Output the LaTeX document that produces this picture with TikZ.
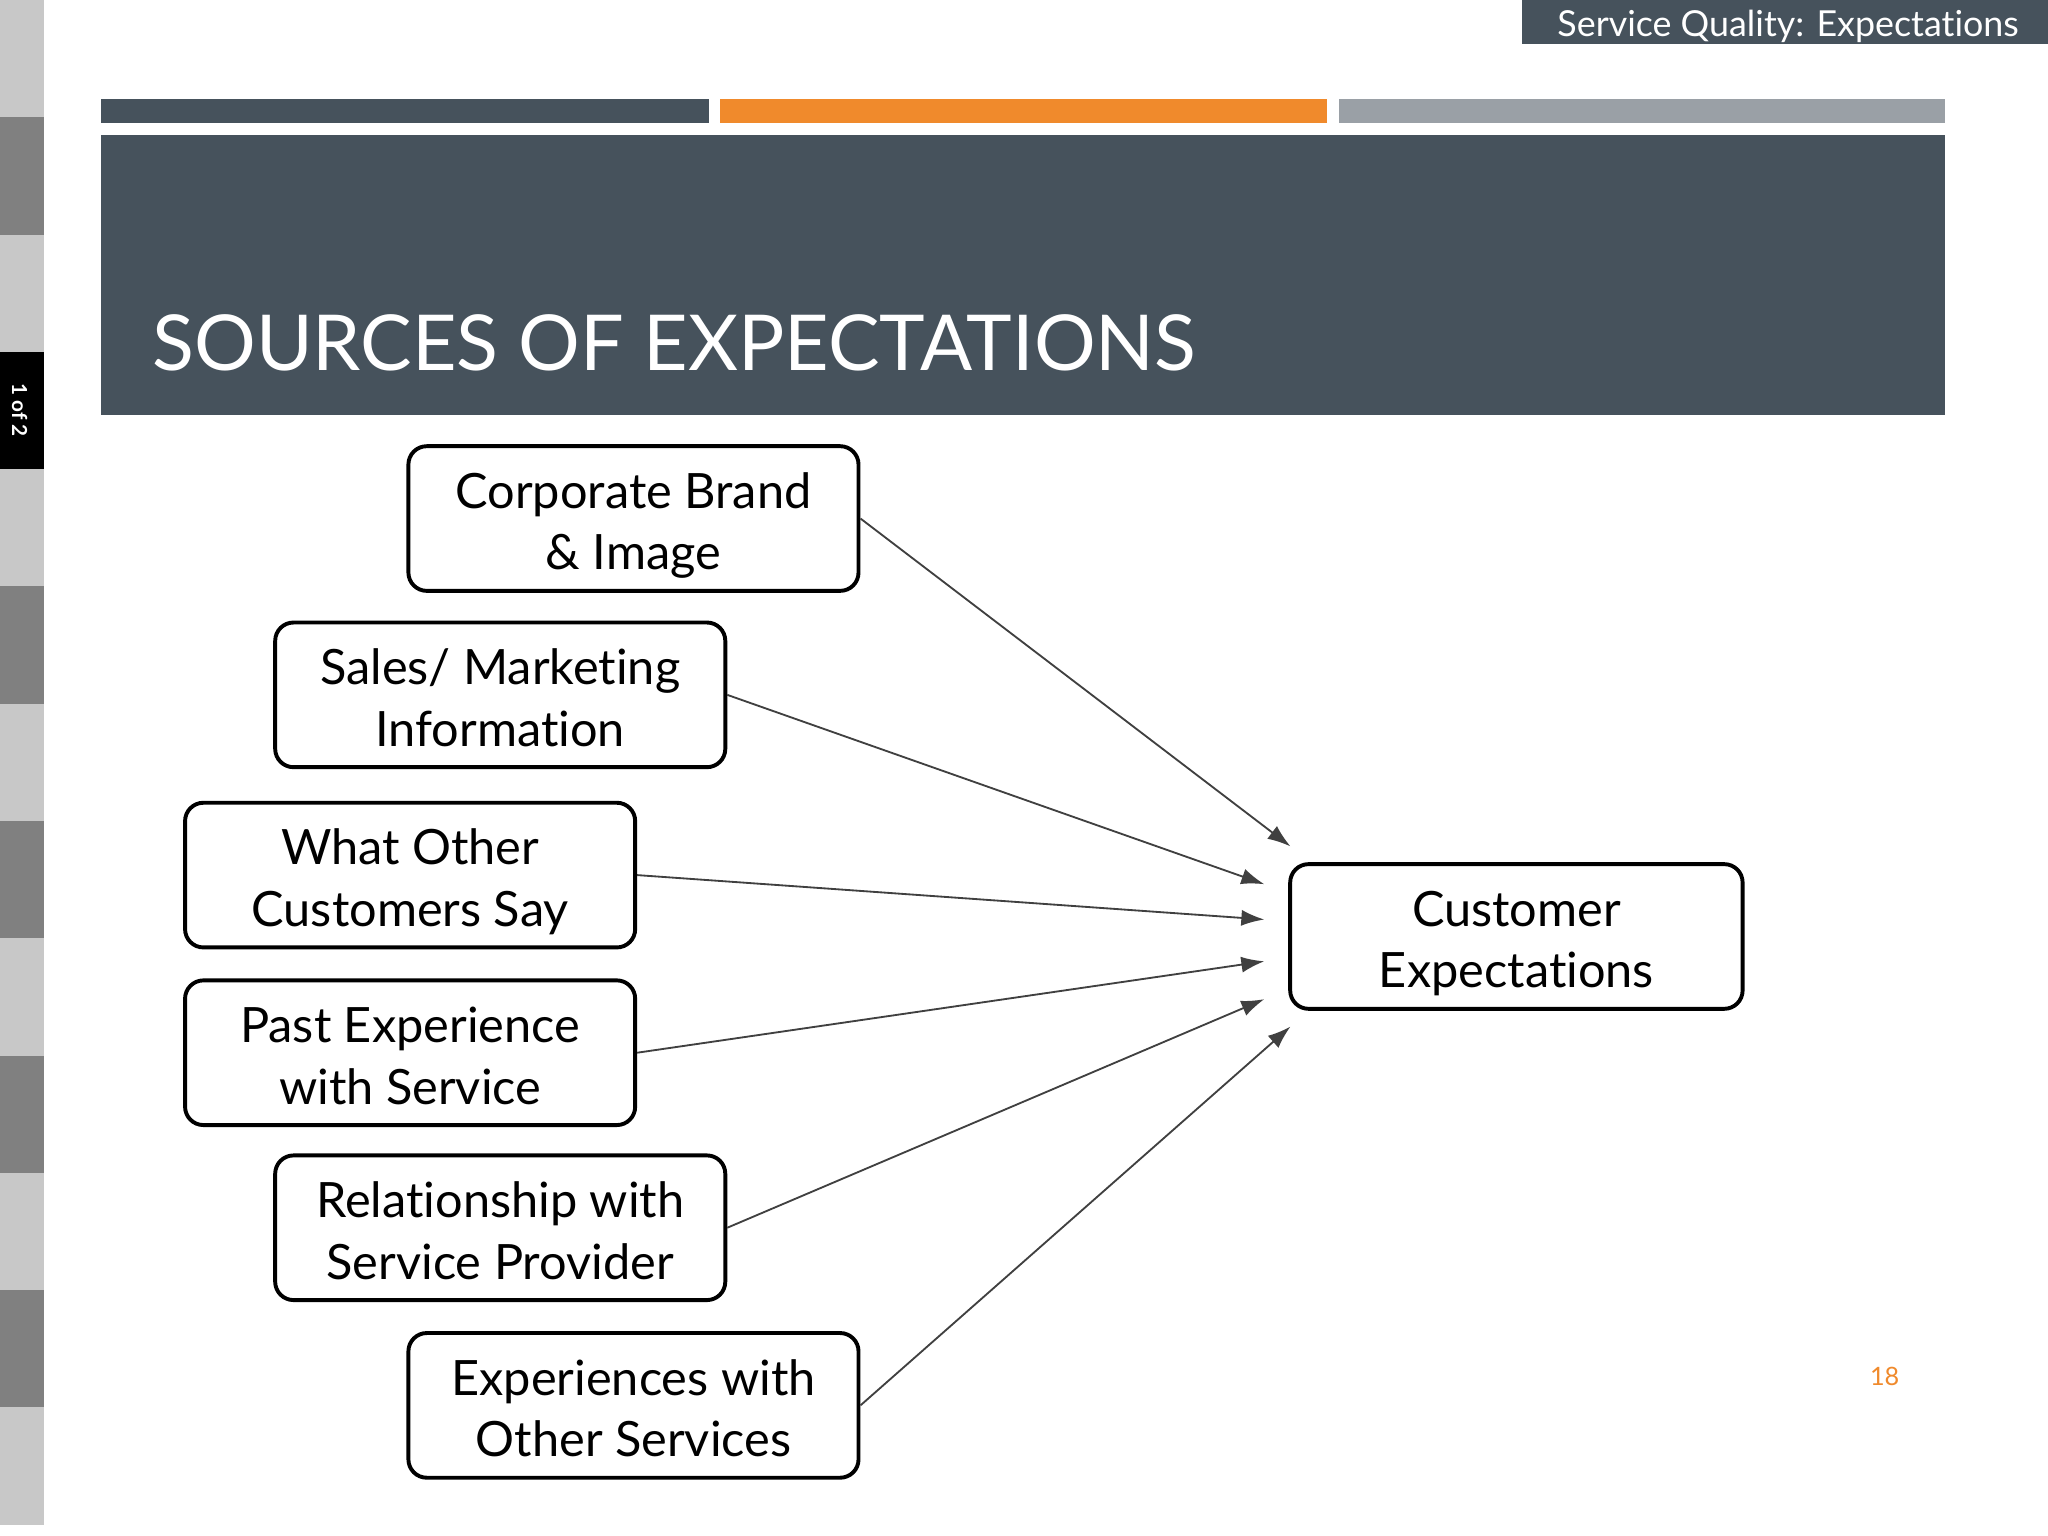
\documentclass[tikz,border=0pt]{standalone}
\usepackage{fontspec}
\setmainfont{Lato}[Ligatures=NoCommon]
\usetikzlibrary{arrows.meta}
\definecolor{slate}{HTML}{46525C}
\definecolor{orng}{HTML}{F08A2C}
\definecolor{gbar}{HTML}{9AA0A6}
\definecolor{lg}{HTML}{C8C8C8}
\definecolor{dg}{HTML}{808080}
\newcommand{\twol}[2]{\begin{tabular}{@{}c@{}}\rule{0pt}{13pt}#1\\#2\end{tabular}}
\begin{document}
\begin{tikzpicture}[x=0.01cm,y=-0.01cm,
  box/.style={draw,line width=0.85pt,rounded corners=4pt,minimum width=98pt,minimum height=31.5pt,align=center,font=\fontsize{10.6pt}{13.4pt}\selectfont,inner sep=0pt},
  arr/.style={draw=black!75,line width=0.4pt,-{Latex[length=5pt,width=3.5pt]}}]
\useasboundingbox (0,0) rectangle (1568,1176);
\fill[white] (0,0) rectangle (1568,1176);
% left stripe
\foreach \i/\c in {0/lg,1/dg,2/lg,4/lg,5/dg,6/lg,7/dg,8/lg,9/dg,10/lg,11/dg,12/lg}{
  \fill[\c] (0,{\i*89.8}) rectangle (34,{(\i+1)*89.8});}
\fill[black] (0,269.4) rectangle (34,359.2);
\node[rotate=-90,text=white,font=\fontsize{4.5pt}{5pt}\selectfont\bfseries] (pg) at (15,314) {1 of 2};
% tab
\fill[slate] (1165,0) rectangle (1568,34);
\node[text=white,font=\fontsize{7.8pt}{9pt}\selectfont,anchor=west] (tab) at (1180,20) {Service Quality: Expectations};
% bars
\fill[slate] (77,76) rectangle (543,94);
\fill[orng] (551,76) rectangle (1016,94);
\fill[gbar] (1025,76) rectangle (1489,94);
\fill[slate] (77,103) rectangle (1489,318);
\node[text=white,anchor=base west,font=\fontsize{16.8pt}{20pt}\selectfont,inner sep=0pt] (title) at (116,284) {SOURCES OF EXPECTATIONS};
% boxes
\node[box] (a) at (485,397) {\twol{Corporate Brand}{\& Image}};
\node[box] (b) at (383,532) {\twol{Sales/ Marketing}{Information}};
\node[box] (c) at (314,670) {\twol{What Other}{Customers Say}};
\node[box] (d) at (314,806) {\twol{Past Experience}{with Service}};
\node[box] (e) at (383,940) {\twol{Relationship with}{Service Provider}};
\node[box] (f) at (485,1076) {\twol{Experiences with}{Other Services}};
\node[box,minimum width=98.5pt] (t) at (1161,717) {\twol{Customer}{Expectations}};
\coordinate (ta) at (988,648);
\coordinate (tb) at (968,677);
\coordinate (tc) at (968,704);
\coordinate (td) at (968,736);
\coordinate (te) at (968,765);
\coordinate (tf) at (988,786);
\draw[arr] (a.east) -- (ta);
\draw[arr] (b.east) -- (tb);
\draw[arr] (c.east) -- (tc);
\draw[arr] (d.east) -- (td);
\draw[arr] (e.east) -- (te);
\draw[arr] (f.east) -- (tf);
\node[text=orng,font=\fontsize{5.5pt}{6pt}\selectfont] (num) at (1443,1054) {18};
\end{tikzpicture}
\end{document}
